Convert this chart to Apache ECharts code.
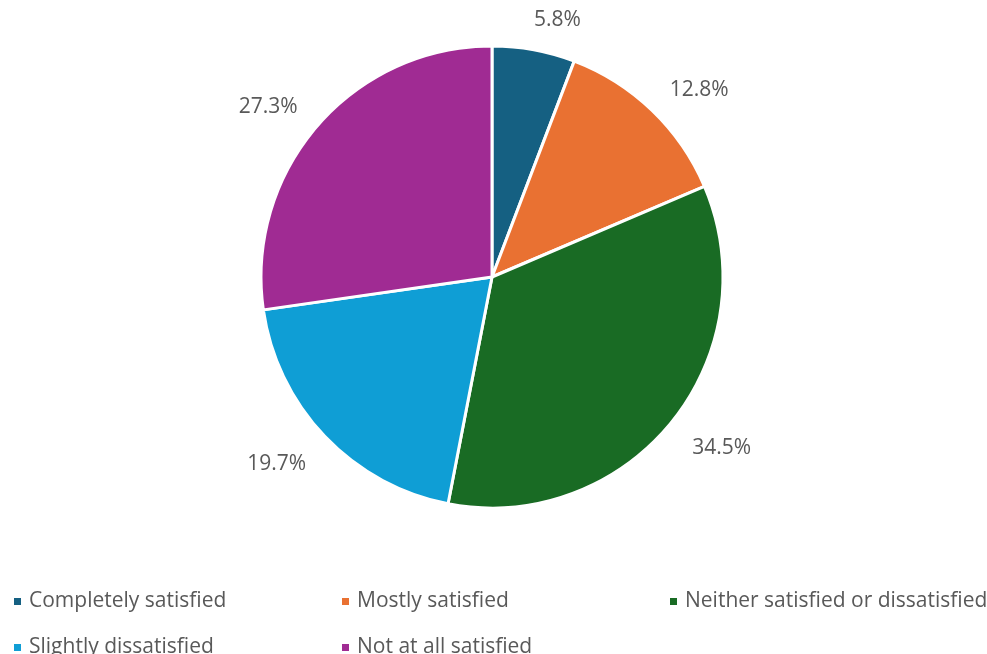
<!DOCTYPE html>
<html>
<head>
<meta charset="utf-8">
<style>
  html, body { margin: 0; padding: 0; background: #ffffff; }
  #chart { width: 987px; height: 654px; }
</style>
<script src="https://cdn.jsdelivr.net/npm/echarts@6/dist/echarts.min.js"></script>
</head>
<body>
<div id="chart"></div>
<script>
// Satisfaction shares (percent of respondents)
const categories = [
  'Completely satisfied',
  'Mostly satisfied',
  'Neither satisfied or dissatisfied',
  'Slightly dissatisfied',
  'Not at all satisfied'
];
const shares = [5.8, 12.8, 34.5, 19.7, 27.3];
const colors = ['#156082', '#E97132', '#196B24', '#0F9ED5', '#A02B93'];

const chart = echarts.init(document.getElementById('chart'), null, { renderer: 'canvas' });

chart.setOption({
  animation: false,
  color: colors,
  textStyle: { fontFamily: 'Open Sans' },
  legend: {
    data: categories,
    left: 12,
    top: 589,
    width: 985,
    padding: 0,
    icon: 'rect',
    itemWidth: 9,
    itemHeight: 9,
    itemGap: 21,
    textStyle: {
      color: '#595959',
      fontSize: 21,
      fontFamily: 'Open Sans',
      width: 290,
      lineHeight: 25,
      padding: [0, 0, 0, 2],
      overflow: 'none'
    }
  },
  series: [{
    type: 'pie',
    center: [492, 277],
    radius: 231,
    startAngle: 90,
    clockwise: true,
    avoidLabelOverlap: false,
    itemStyle: { borderColor: '#ffffff', borderWidth: 3 },
    label: {
      show: true,
      position: 'outside',
      color: '#595959',
      fontSize: 21,
      fontFamily: 'Open Sans',
      distanceToLabelLine: 0,
      offset: [0, 4],
      formatter: p => p.value.toFixed(1) + '%'
    },
    labelLine: { show: false, length: 34, length2: -6 },
    emphasis: { disabled: true },
    data: categories.map((name, i) => ({ name, value: shares[i] }))
  }]
});
</script>
</body>
</html>
